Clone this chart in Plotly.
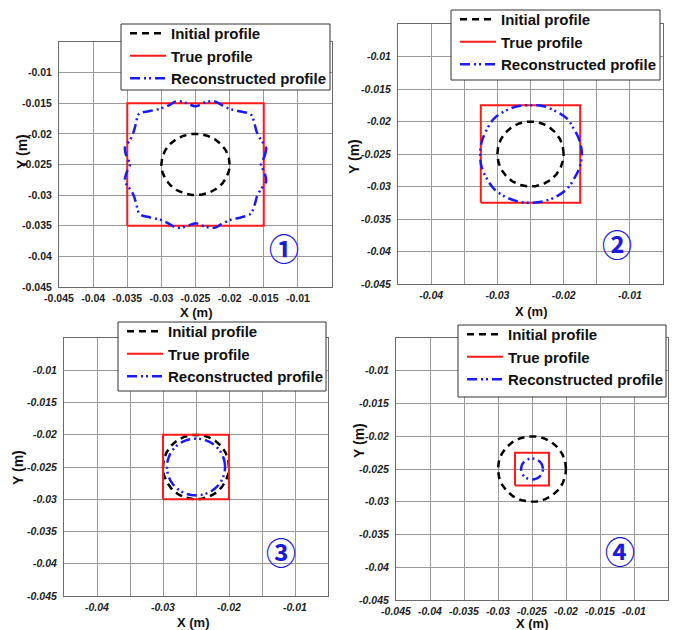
import numpy as np
import plotly.graph_objects as go

# ---------------- data ----------------
CENTER_X = -0.025
CENTER_Y = -0.025
INITIAL_RADIUS = 0.005

# True profiles: square half-widths (m) for panels 1..4
TRUE_HALF_SIDE = [0.010, 0.0075, 0.005, 0.0025]

# Reconstructed profile panel 1: radius (mm) every 7.5 deg
RECON1_ANGLES = list(np.arange(0, 360, 7.5))
RECON1_R_MM = [9.6, 10.2, 10.7, 10.4, 10.4, 10.9, 11.5, 10.9, 10.4, 10.4, 10.7, 10.2,
               9.5, 10.1, 10.7, 10.4, 10.5, 11.0, 11.7, 11.0, 10.5, 10.4, 10.7, 10.2,
               9.6, 10.2, 10.7, 10.4, 10.4, 10.9, 11.5, 10.9, 10.4, 10.4, 10.7, 10.2,
               9.6, 10.2, 10.7, 10.4, 10.4, 10.9, 11.4, 10.9, 10.4, 10.4, 10.7, 10.2]
# Panel 2: radius (mm) every 15 deg
RECON2_ANGLES = list(np.arange(0, 360, 15))
RECON2_R_MM = [7.75, 7.7, 7.6, 7.75, 7.6, 7.6, 7.5, 7.6, 7.65, 7.75, 7.6, 7.6,
               7.6, 7.65, 7.6, 7.7, 7.6, 7.55, 7.5, 7.55, 7.6, 7.7, 7.6, 7.7]
# Panels 3 and 4: near-circular reconstructions, radius (mm)
RECON3_R_MM = 4.4
RECON4_R_MM = 1.6

TICK_VALS = [-0.045, -0.04, -0.035, -0.03, -0.025, -0.02, -0.015, -0.01]
TICK_TEXT = ["-0.045", "-0.04", "-0.035", "-0.03", "-0.025", "-0.02", "-0.015", "-0.01"]
TICK_TEXT_SPARSE = ["", "-0.04", "", "-0.03", "", "-0.02", "", "-0.01"]
YTICK_VALS = [-0.045, -0.04, -0.035, -0.03, -0.025, -0.02, -0.015, -0.01]
YTICK_TEXT = ["-0.045", "-0.04", "-0.035", "-0.03", "-0.025", "-0.02", "-0.015", "-0.01"]

LEGEND_NAMES = ["Initial profile", "True profile", "Reconstructed profile"]
PANEL_LABELS = ["\u2460", "\u2461", "\u2462", "\u2463"]

# ---------------- helpers ----------------
def polar_to_xy(angles_deg, radii_m):
    a = np.deg2rad(np.asarray(angles_deg, dtype=float))
    r = np.asarray(radii_m, dtype=float)
    x = CENTER_X + r * np.cos(a)
    y = CENTER_Y + r * np.sin(a)
    return list(x) + [x[0]], list(y) + [y[0]]

def fmt(labels, it):
    out = []
    for s in labels:
        if not s:
            out.append("")
        elif it:
            out.append(f"<b><i>{s}</i></b>")
        else:
            out.append(f"<b>{s}</b>")
    return out

circle_angles = np.arange(0, 360, 2.0)

W, H = 676, 630
# panel pixel boxes: (left, right, top, bottom)
boxes = [(59, 332, 42, 287), (398, 663, 24, 284), (64, 328, 338, 596), (396, 668, 338, 600)]
# legend frame boxes: (left, top, right, bottom)
legend_box = [(121, 24, 330, 90), (451, 10, 660, 80), (118, 322, 326, 391), (458, 325, 666, 397)]
label_pos = [(284, 247), (617, 243), (281, 551), (620, 550)]
xtitle_pos = [(196, 312), (531, 311), (193, 622), (532, 623)]
ytitle_pos = [(22, 152), (354, 157), (18, 468), (359, 441)]

BLACK = "#000000"
RED = "#ff1a1a"
BLUE = "#1a1aff"

fig = go.Figure()

recon_r = [
    (RECON1_ANGLES, np.array(RECON1_R_MM) / 1000.0),
    (RECON2_ANGLES, np.array(RECON2_R_MM) / 1000.0),
    (circle_angles, np.full(len(circle_angles), RECON3_R_MM / 1000.0)),
    (circle_angles, np.full(len(circle_angles), RECON4_R_MM / 1000.0)),
]

for i in range(4):
    xa = "x" if i == 0 else f"x{i+1}"
    ya = "y" if i == 0 else f"y{i+1}"
    lg = "legend" if i == 0 else f"legend{i+1}"
    cx, cy = polar_to_xy(circle_angles, np.full(len(circle_angles), INITIAL_RADIUS))
    fig.add_trace(go.Scatter(x=cx, y=cy, mode="lines", name=LEGEND_NAMES[0],
                             line=dict(color=BLACK, width=2.5, dash="7px,5px"),
                             xaxis=xa, yaxis=ya, legend=lg))
    h = TRUE_HALF_SIDE[i]
    sx = [CENTER_X - h, CENTER_X + h, CENTER_X + h, CENTER_X - h, CENTER_X - h]
    sy = [CENTER_Y - h, CENTER_Y - h, CENTER_Y + h, CENTER_Y + h, CENTER_Y - h]
    fig.add_trace(go.Scatter(x=sx, y=sy, mode="lines", name=LEGEND_NAMES[1],
                             line=dict(color=RED, width=2),
                             xaxis=xa, yaxis=ya, legend=lg))
    ang, rr = recon_r[i]
    rx, ry = polar_to_xy(ang, rr)
    fig.add_trace(go.Scatter(x=rx, y=ry, mode="lines", name=LEGEND_NAMES[2],
                             line=dict(color=BLUE, width=2.5, dash="10px,4px,2px,3px,2px,4px",
                                       shape="spline", smoothing=1.0),
                             xaxis=xa, yaxis=ya, legend=lg))

layout = dict(
    template="none",
    width=W, height=H, margin=dict(l=0, r=0, t=0, b=0, autoexpand=False),
    paper_bgcolor="white", plot_bgcolor="white",
    font=dict(family="Liberation Sans, Arial, sans-serif", color="#111"),
    annotations=[], shapes=[],
)

italic = [False, True, True, True]
sparse_x = [False, True, True, False]
for i in range(4):
    l, r, t, b = boxes[i]
    xk = "xaxis" if i == 0 else f"xaxis{i+1}"
    yk = "yaxis" if i == 0 else f"yaxis{i+1}"
    ya = "y" if i == 0 else f"y{i+1}"
    xa = "x" if i == 0 else f"x{i+1}"
    tf = dict(size=10.5, color="#222", family="Liberation Sans, Arial, sans-serif")
    layout[xk] = dict(domain=[l / W, r / W], anchor=ya, range=[-0.045, -0.005],
                      tickmode="array", tickvals=TICK_VALS,
                      ticktext=fmt(TICK_TEXT_SPARSE if sparse_x[i] else TICK_TEXT, italic[i]),
                      showgrid=True, gridcolor="#9a9a9a", gridwidth=1,
                      showline=True, linecolor="#6a6a6a", linewidth=1, mirror=True,
                      zeroline=False, ticks="", tickfont=tf, ticklabelstandoff=1,
                      automargin=False, fixedrange=True)
    layout[yk] = dict(domain=[1 - b / H, 1 - t / H], anchor=xa, range=[-0.045, -0.005],
                      tickmode="array", tickvals=YTICK_VALS, ticktext=fmt(YTICK_TEXT, italic[i]),
                      showgrid=True, gridcolor="#9a9a9a", gridwidth=1,
                      showline=True, linecolor="#6a6a6a", linewidth=1, mirror=True,
                      zeroline=False, ticks="", tickfont=tf, ticklabelstandoff=4,
                      automargin=False, fixedrange=True)
    # legend frame (white box with dark border)
    bl, bt, br, bb = legend_box[i]
    layout["shapes"].append(dict(type="rect", xref="paper", yref="paper",
                                 x0=bl / W, x1=br / W, y0=1 - bb / H, y1=1 - bt / H,
                                 fillcolor="white", line=dict(color="#333", width=1),
                                 layer="above"))
    lk = "legend" if i == 0 else f"legend{i+1}"
    layout[lk] = dict(x=(bl + 4) / W, y=1 - (bt - 7) / H, xanchor="left", yanchor="top",
                      xref="paper", yref="paper",
                      bgcolor="rgba(0,0,0,0)", borderwidth=0,
                      font=dict(size=15, color="#111", weight="bold",
                                family="Liberation Sans, Arial, sans-serif"),
                      itemwidth=36, tracegroupgap=0)
    px_, py_ = label_pos[i]
    layout["annotations"].append(dict(text=PANEL_LABELS[i], x=px_ / W, y=1 - py_ / H,
                                      xref="paper", yref="paper", showarrow=False,
                                      xanchor="center", yanchor="middle",
                                      font=dict(size=30, color="#1a1ae0", weight="bold",
                                                family="Noto Sans CJK SC")))
    tx, ty = xtitle_pos[i]
    layout["annotations"].append(dict(text="X (m)", x=tx / W, y=1 - ty / H,
                                      xref="paper", yref="paper", showarrow=False,
                                      xanchor="center", yanchor="middle",
                                      font=dict(size=13, color="#111", weight="bold")))
    qx, qy = ytitle_pos[i]
    layout["annotations"].append(dict(text="Y (m)", x=qx / W, y=1 - qy / H,
                                      xref="paper", yref="paper", showarrow=False,
                                      xanchor="center", yanchor="middle", textangle=-90,
                                      font=dict(size=14, color="#111", weight="bold")))

fig.update_layout(**layout)
fig.write_html("out.html")
